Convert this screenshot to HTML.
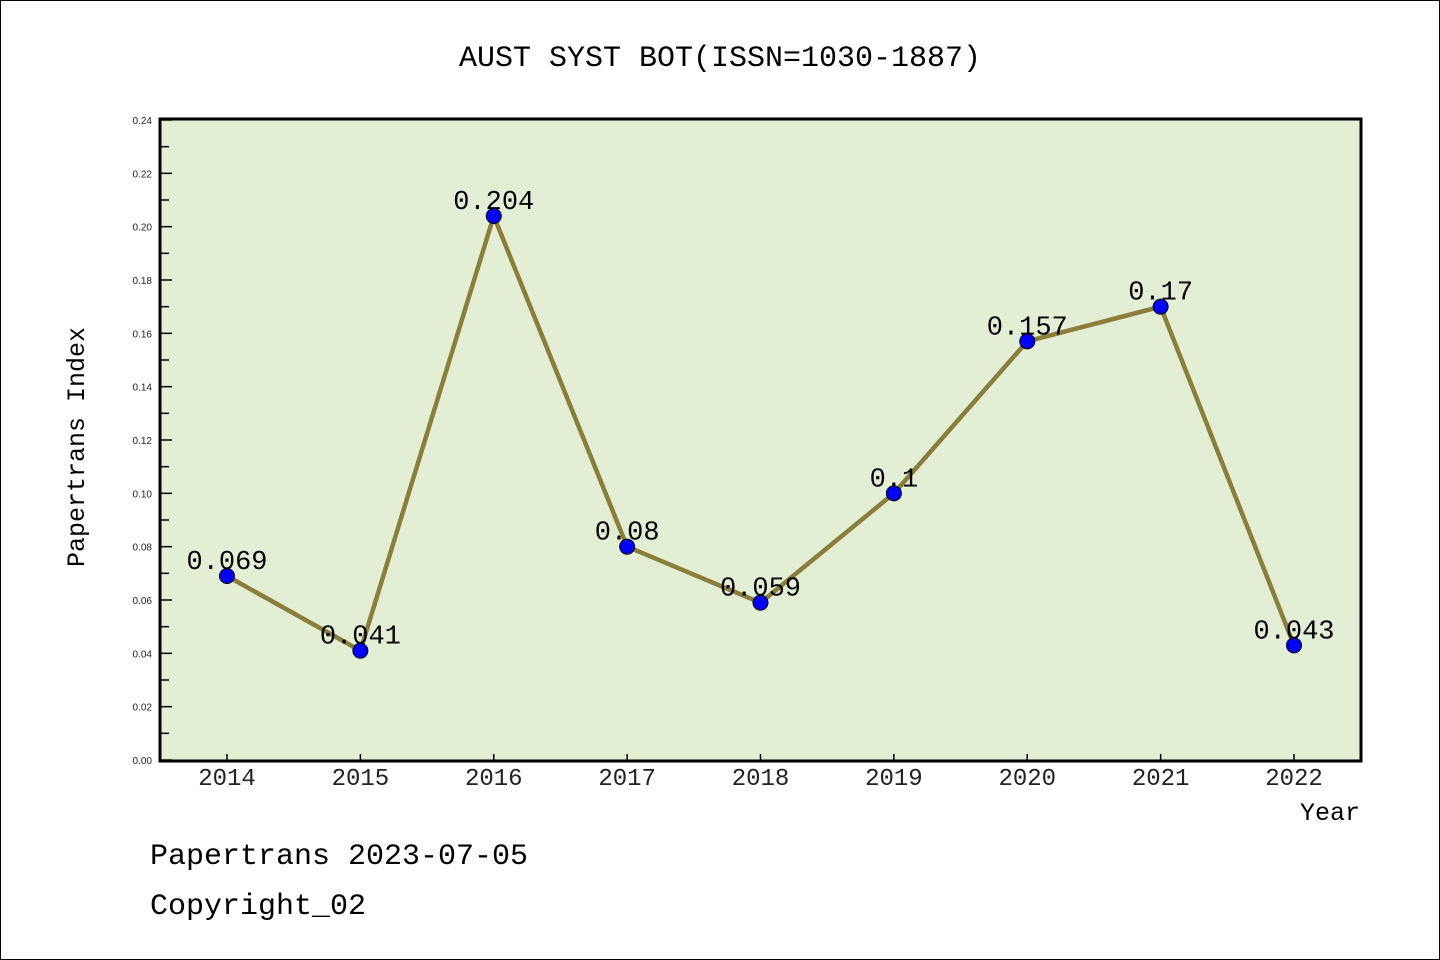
<!DOCTYPE html>
<html><head><meta charset="utf-8"><style>
html,body{margin:0;padding:0;background:#fff;}
svg{display:block;}
text{font-family:"Liberation Mono","Noto Sans CJK SC",monospace;}
.sans{font-family:"Liberation Sans",sans-serif;}
</style></head><body>
<svg id="chart" width="1440" height="960" xmlns="http://www.w3.org/2000/svg">
<rect x="0.5" y="0.5" width="1439" height="959" fill="#fff" stroke="#000"/>
<text x="720" y="66" text-anchor="middle" font-size="30">AUST SYST BOT(ISSN=1030-1887)</text>
<rect x="160" y="120" width="1201" height="640" fill="#e2efd4"/>
<g id="axes"></g>
<g id="marks"></g>
<path d="M160,119 V761 H1361 V119 Z" fill="none" stroke="#000" stroke-width="3"/>
<text x="84" y="447" text-anchor="middle" font-size="25" transform="rotate(-90 84 447)">Papertrans Index</text>
<text x="1330" y="820" text-anchor="middle" font-size="25">Year</text>
<text x="150" y="864" font-size="30">Papertrans 2023-07-05</text>
<text x="150" y="914" font-size="30">Copyright_02</text>
</svg>
<script>
const years = ["2014","2015","2016","2017","2018","2019","2020","2021","2022"];
const values = [0.069,0.041,0.204,0.08,0.059,0.1,0.157,0.17,0.043];
const valueLabels = ["0.069","0.041","0.204","0.08","0.059","0.1","0.157","0.17","0.043"];
const yTicks = [0,0.02,0.04,0.06,0.08,0.10,0.12,0.14,0.16,0.18,0.20,0.22,0.24];

const NS="http://www.w3.org/2000/svg";
const x0=227, xStep=(1294-227)/8;
function xs(i){return x0+i*xStep;}
function ys(v){return 760-v/0.24*640;}
function mk(tag,attrs,parent){const e=document.createElementNS(NS,tag);for(const k in attrs)e.setAttribute(k,attrs[k]);parent.appendChild(e);return e;}
const axes=document.getElementById('axes'), marks=document.getElementById('marks');
yTicks.forEach((t,i)=>{
  const y=ys(t);
  const tk=mk('line',{x1:160,x2:172,y1:y,y2:y,stroke:'#000','stroke-width':1.5},axes);
  
  
  const lb=mk('text',{x:152,y:y+4,'text-anchor':'end','font-size':10,fill:'#222','class':'sans'},axes);
  lb.textContent=t.toFixed(2);
  
  
  if(i<yTicks.length-1){
    const ym=ys(t+0.01);
    const mn=mk('line',{x1:160,x2:169,y1:ym,y2:ym,stroke:'#000','stroke-width':1.5},axes);
    
    
  }
});
years.forEach((yr,i)=>{
  const x=xs(i);
  const tk=mk('line',{x1:x,x2:x,y1:760,y2:754,stroke:'#000','stroke-width':1.5},axes);
  
  
  const lb=mk('text',{x:x,y:785,'text-anchor':'middle','font-size':24,fill:'#222'},axes);
  lb.textContent=yr;
  
  
});
const line=mk('polyline',{points:values.map((v,i)=>xs(i)+','+ys(v)).join(' '),fill:'none',stroke:'#8b7d3a','stroke-width':4.5,'stroke-linejoin':'round'},marks);


values.forEach((v,i)=>{
  const c=mk('circle',{cx:xs(i),cy:ys(v),r:7.5,fill:'#0000ff',stroke:'#000','stroke-width':1},marks);
  
  
  const t=mk('text',{x:xs(i),y:ys(v)-7,'text-anchor':'middle','font-size':27,fill:'#000'},marks);
  t.textContent=valueLabels[i];
  
  
});
</script>
</body></html>
